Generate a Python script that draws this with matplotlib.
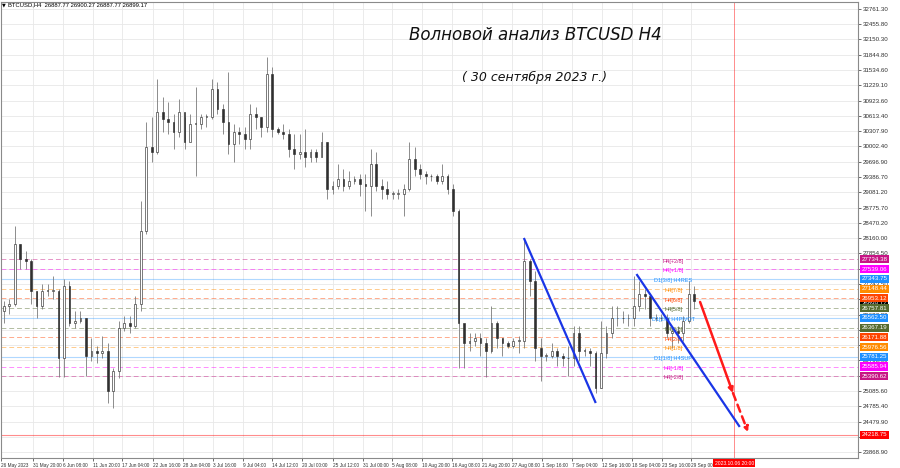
import numpy as np
import pandas as pd
import matplotlib
matplotlib.use("Agg")
import matplotlib.pyplot as plt
import matplotlib.transforms as mtransforms

start = pd.Timestamp("2023-05-26 00:00")

# BTCUSD, one candle per day, 26 May .. 29 Sep 2023
first_open = 26700
bar_high = [26900, 26950, 28400, 28050, 27900, 27750, 27100, 27250, 27250, 27400,
            27150, 27350, 27300, 26700, 26700, 26550, 26150, 26000, 26200, 26050,
            25550, 26500, 26600, 26600, 27000, 28900, 30500, 30600, 31350, 31000,
            30900, 30650, 30950, 30600, 30650, 31200, 30650, 30650, 31350, 31300,
            30850, 31500, 30450, 30400, 30400, 30850, 30800, 30600, 31800, 31600,
            30400, 30450, 30350, 30250, 30250, 30350, 29950, 29950, 30300, 30100,
            29300, 29650, 29550, 29500, 29400, 29450, 29450, 29950, 29900, 29350,
            29300, 29100, 29150, 29250, 30100, 30000, 29650, 29500, 29450, 29450,
            29650, 29450, 29250, 28750, 26300, 26250, 26250, 26250, 26150, 26800,
            26500, 26150, 26100, 26150, 26200, 28150, 27750, 27500, 26150, 25850,
            26050, 25950, 25850, 26000, 26400, 26400, 25950, 25950, 25900, 26500,
            26400, 26800, 26800, 26700, 26650, 27400, 27300, 27150, 26950, 26650,
            26650, 26650, 26400, 26400, 26600, 27300, 27200]
bar_low = [26450, 26650, 26800, 27550, 27550, 26850, 26550, 26750, 27000, 26950,
           25380, 25380, 26400, 26350, 26450, 25400, 25700, 25650, 25750, 24850,
           24750, 25350, 26300, 26250, 26350, 26700, 28250, 29700, 29850, 30300,
           30250, 29950, 30200, 29950, 30200, 29400, 30350, 30400, 30550, 30650,
           30250, 29850, 29700, 30050, 29950, 29950, 30350, 30200, 30300, 30200,
           30250, 30150, 29800, 29550, 29750, 29600, 29700, 29700, 29800, 28950,
           29050, 29150, 29100, 29150, 29250, 29000, 28700, 28600, 29100, 28950,
           28950, 28950, 28950, 28600, 29100, 29400, 29350, 29250, 29300, 29250,
           29250, 29050, 28600, 25550, 25550, 25900, 26000, 25800, 25380, 25850,
           25950, 25800, 25950, 25950, 25850, 25950, 27000, 25700, 25300, 25700,
           25750, 25600, 25600, 25400, 25600, 25700, 25800, 25600, 25050, 25150,
           25750, 26150, 26400, 26450, 26400, 26400, 26700, 26750, 26400, 26500,
           26500, 26150, 25950, 26050, 26100, 26450, 26750]
bar_close = [26800, 26850, 28050, 27750, 27700, 27100, 26800, 27100, 27100, 27100,
             25750, 27200, 26450, 26500, 26550, 25800, 25900, 25850, 25900, 25100,
             25500, 26350, 26450, 26400, 26850, 28300, 30000, 29900, 30700, 30550,
             30500, 30300, 30700, 30100, 30450, 30450, 30600, 30600, 31150, 30750,
             30500, 30050, 30300, 30250, 30150, 30650, 30600, 30400, 31450, 30350,
             30300, 30250, 29950, 29850, 29900, 29800, 29900, 29800, 30100, 29150,
             29200, 29350, 29200, 29300, 29350, 29250, 29200, 29650, 29200, 29150,
             29050, 29050, 29050, 29150, 29750, 29550, 29450, 29400, 29400, 29300,
             29400, 29150, 28700, 26450, 26050, 26100, 26150, 26050, 25900, 26450,
             26150, 26050, 26000, 26100, 26100, 27700, 27300, 25950, 25800, 25800,
             25900, 25800, 25750, 25750, 26250, 25900, 25900, 25850, 25150, 25850,
             26250, 26550, 26550, 26550, 26550, 26800, 27050, 27000, 26550, 26550,
             26550, 26250, 26300, 26250, 26500, 27050, 26899.17]

date_ticks = ["2023-05-26 00:00", "2023-05-31 20:00", "2023-06-06 08:00", "2023-06-11 20:00",
              "2023-06-17 04:00", "2023-06-22 16:00", "2023-06-28 04:00", "2023-07-03 16:00",
              "2023-07-09 04:00", "2023-07-14 12:00", "2023-07-20 00:00", "2023-07-25 12:00",
              "2023-07-31 00:00", "2023-08-05 08:00", "2023-08-10 20:00", "2023-08-16 08:00",
              "2023-08-21 20:00", "2023-08-27 08:00", "2023-09-01 16:00", "2023-09-07 04:00",
              "2023-09-12 16:00", "2023-09-18 04:00", "2023-09-23 16:00", "2023-09-29 00:00"]
date_labels = ["26 May 2023", "31 May 20:00", "6 Jun 08:00", "11 Jun 20:00", "17 Jun 04:00",
               "22 Jun 16:00", "28 Jun 04:00", "3 Jul 16:00", "9 Jul 04:00", "14 Jul 12:00",
               "20 Jul 00:00", "25 Jul 12:00", "31 Jul 00:00", "5 Aug 08:00", "10 Aug 20:00",
               "16 Aug 08:00", "21 Aug 20:00", "27 Aug 08:00", "1 Sep 16:00", "7 Sep 04:00",
               "12 Sep 16:00", "18 Sep 04:00", "23 Sep 16:00", "29 Sep 00:00"]

price_ticks = [32761.30, 32455.80, 32150.30, 31844.80, 31534.60, 31229.10, 30923.60,
               30613.40, 30307.90, 30002.40, 29696.90, 29386.70, 29081.20, 28775.70,
               28470.20, 28160.00, 27854.50, 27549.00, 27243.50, 26933.30, 26627.80,
               26322.30, 26014.60, 25708.60, 25401.10, 25085.60, 24785.40, 24479.90,
               24174.40, 23868.90]
# tick labels that sit fully under a level box in the chart
hidden_ticks = [27549.00, 26933.30, 26322.30, 25401.10, 24174.40]

# Murrey math levels
murrey_prices = [27734.38, 27539.06, 27343.75, 27148.44, 26953.12, 26757.81, 26562.50,
                 26367.19, 26171.88, 25976.56, 25781.25, 25585.94, 25390.62]
murrey_names = ["H4[+2/8]", "H4[+1/8]", "D1[3/8] H4RES", "H4[7/8]", "H4[6/8]", "H4[5/8]",
                "D1[2/8] H4PIVOT", "H4[3/8]", "H4[2/8]", "H4[1/8]", "D1[1/8] H4SUP",
                "H4[-1/8]", "H4[-2/8]"]
murrey_colors = ["#c71585", "#ff00ff", "#1e90ff", "#ff8c00", "#ff4500", "#556b2f", "#1e90ff",
                 "#556b2f", "#ff4500", "#ff8c00", "#1e90ff", "#ff00ff", "#c71585"]
murrey_solid = [False, False, True, False, False, False, True, False, False, False, True, False, False]
target_price = 24218.75

# wave lines (time, price)
blue1_t = ["2023-08-29 12:00", "2023-09-11 11:00"]
blue1_p = [28145, 24874]
blue2_t = ["2023-09-19 02:00", "2023-10-07 17:00"]
blue2_p = [27423, 24392]
red_t = ["2023-09-30 14:00", "2023-10-06 14:00", "2023-10-09 08:00"]
red_p = [26881, 25054, 24272]
vline_time = "2023-10-06 20:00"

axis_font = "Liberation Sans"


def to_day(s):
    return (pd.Timestamp(s) - start) / pd.Timedelta(days=1)


W, H = 900, 468
fig = plt.figure(figsize=(W / 100, H / 100), dpi=100)
ax = fig.add_axes([1 / W, 1 - 458 / H, 857 / W, 456 / H])
ax.set_xlim(0.2, 156.4)
ax.set_ylim(23749.9, 32901.8)

# candles
o = np.array([first_open] + bar_close[:-1], dtype=float)
c = np.array(bar_close, dtype=float)
hi = np.array(bar_high, dtype=float)
lo = np.array(bar_low, dtype=float)
days = np.arange(len(c)) + 0.5
up = c >= o
ax.vlines(days, lo, hi, color="#7a7a7a", lw=0.6, zorder=4)
body = np.maximum(np.abs(c - o), 15)
ax.bar(days, body, bottom=np.minimum(o, c), width=0.32,
       color=np.where(up, "white", "#303030"), edgecolor="#303030", lw=0.45, zorder=5)

# Murrey lines and their labels
label_day = 122.7
for p, name, col, solid in zip(murrey_prices, murrey_names, murrey_colors, murrey_solid):
    if solid:
        ax.axhline(p, color=col, lw=0.8, alpha=0.35, zorder=2)
    else:
        ax.axhline(p, color=col, lw=0.7, alpha=0.45, ls=(0, (5, 3)), zorder=2)
    ax.text(label_day, p - 35, name, color=col, fontsize=4.0, family=axis_font,
            ha="center", va="center", zorder=6)
ax.axhline(target_price, color="#ff0000", lw=0.8, alpha=0.45, zorder=2)

# vertical line
vday = to_day(vline_time)
ax.axvline(vday, color="#ff0000", lw=0.7, alpha=0.45, zorder=2)

# wave lines
ax.plot([to_day(t) for t in blue1_t], blue1_p, color="#1a35e6", lw=1.6, zorder=7)
ax.plot([to_day(t) for t in blue2_t], blue2_p, color="#1a35e6", lw=1.6, zorder=7)
rd = [to_day(t) for t in red_t]
ax.annotate("", xy=(rd[1], red_p[1]), xytext=(rd[0], red_p[0]),
            arrowprops=dict(arrowstyle="-|>", color="#ff1a1a", lw=1.8, mutation_scale=7,
                            shrinkA=0, shrinkB=0), zorder=8)
ax.annotate("", xy=(rd[2], red_p[2]), xytext=(rd[1], red_p[1]),
            arrowprops=dict(arrowstyle="-|>", color="#ff1a1a", lw=1.8, ls=(0, (3, 2)),
                            mutation_scale=7, shrinkA=0, shrinkB=0), zorder=8)

# axes styling
ax.set_xticks([to_day(t) for t in date_ticks])
ax.set_xticklabels(date_labels)
ax.set_yticks(price_ticks)
ax.set_yticklabels(["" if p in hidden_ticks else f"{p:.2f}" for p in price_ticks])
ax.yaxis.tick_right()
ax.tick_params(axis="y", labelsize=4.4, colors="#303030", length=2, width=0.5, pad=1.5)
ax.tick_params(axis="x", labelsize=3.4, colors="#303030", length=2, width=0.5, pad=1.5)
for lab in ax.get_xticklabels() + ax.get_yticklabels():
    lab.set_family(axis_font)
for lab in ax.get_xticklabels():
    lab.set_ha("left")
ax.grid(color="#e8e8e8", lw=0.6, zorder=0)
for s in ax.spines.values():
    s.set_color("#8a8a8a")
    s.set_linewidth(0.8)

# right side price boxes
tr = mtransforms.blended_transform_factory(ax.transAxes, ax.transData)
box = dict(boxstyle="square,pad=0.25", ec="none")
ax.text(1.004, bar_close[-1] - 55, f"{bar_close[-1]:.2f}", transform=tr, fontsize=4.4,
        family=axis_font, color="white", va="center", ha="left",
        bbox=dict(box, fc="black"), clip_on=False, zorder=9)
for p, col in zip(murrey_prices + [target_price], murrey_colors + ["#ff0000"]):
    ax.text(1.004, p, f"{p:.2f}", transform=tr, fontsize=4.4, family=axis_font, color="white",
            va="center", ha="left", bbox=dict(box, fc=col), clip_on=False, zorder=10)

# red date box at the vertical line
trx = mtransforms.blended_transform_factory(ax.transData, ax.transAxes)
ax.text(vday, -0.006, "2023.10.06 20:00", transform=trx, fontsize=3.6, family=axis_font,
        color="white", ha="center", va="top", bbox=dict(box, fc="#ff0000"),
        clip_on=False, zorder=10)

# header and titles
fig.text(2 / W, 1 - 5 / H, "▼", fontsize=3.5, va="center", color="black")
fig.text(8 / W, 1 - 5 / H, "BTCUSD,H4  26887.77 26900.27 26887.77 26899.17",
         fontsize=4.2, family=axis_font, va="center", color="black")
fig.text(535 / W, 1 - 35 / H, "Волновой анализ BTCUSD H4", fontsize=12, style="italic",
         ha="center", va="center", color="#111111")
fig.text(535 / W, 1 - 77 / H, "( 30 сентября 2023 г.)", fontsize=9, style="italic",
         ha="center", va="center", color="#111111")

fig.savefig("out.png", dpi=100, facecolor="white")
